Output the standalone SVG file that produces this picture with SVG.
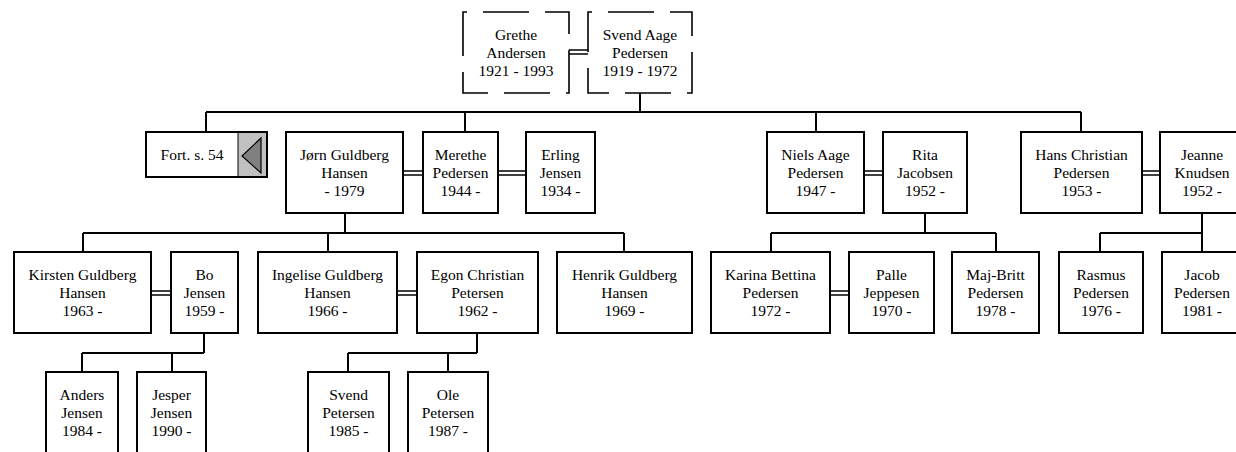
<svg xmlns="http://www.w3.org/2000/svg" width="1236" height="452" viewBox="0 0 1236 452">
<style>
.b{fill:#fff;stroke:#000;stroke-width:2}
.d{fill:#fff;stroke:#000;stroke-width:1.6;stroke-dasharray:46 16;stroke-dashoffset:42}
.t{font-family:"Liberation Serif","Times New Roman",serif;font-size:15.5px;fill:#000;text-anchor:middle}
.c{stroke:#000;stroke-width:2;fill:none}
.m{stroke:#000;stroke-width:1.5;fill:none}
</style>
<rect width="1236" height="452" fill="#fff"/>
<g id="connectors">
<path class="c" d="M640 93V112M206 112H1081M206 112V132M465 112V132M816 112V132M1081 112V132"/>
<path class="c" d="M345 213V233M83 233H624M83 233V252M328 233V252M624 233V252"/>
<path class="c" d="M925 213V233M771 233H996M771 233V252M996 233V252"/>
<path class="c" d="M1202 213V233M1100 233H1202M1100 233V252M1202 233V252"/>
<path class="c" d="M204 333V353M82 353H204M82 353V372M172 353V372"/>
<path class="c" d="M477 333V353M348 353H477M348 353V372M448 353V372"/>
<path class="m" d="M569 50H588M569 54H588"/>
<path class="m" d="M403 171H423M403 175H423M498 171H526M498 175H526M864 171H883M864 175H883M1142 171H1160M1142 175H1160"/>
<path class="m" d="M151 291H171M151 295H171M397 291H417M397 295H417M830 291H849M830 295H849"/>
</g>
<g id="grethe"><rect class="d" x="463" y="12" width="106" height="81"/><text class="t" x="516"><tspan x="516" y="39.5">Grethe</tspan><tspan x="516" y="57.5">Andersen</tspan><tspan x="516" y="75.5">1921 - 1993</tspan></text></g>
<g id="svend-aage"><rect class="d" x="588" y="12" width="104" height="81"/><text class="t"><tspan x="640" y="39.5">Svend Aage</tspan><tspan x="640" y="57.5">Pedersen</tspan><tspan x="640" y="75.5">1919 - 1972</tspan></text></g>
<g id="fort"><rect class="b" x="146" y="132" width="121" height="45"/><rect x="238" y="133" width="28" height="43" fill="#c0c0c0"/><line x1="238" y1="132" x2="238" y2="177" stroke="#000" stroke-width="1"/><polygon points="242,156 261,138 261,173" fill="#808080" stroke="#000" stroke-width="1.2"/><text class="t" x="192" y="160">Fort. s. 54</text></g>
<g id="jorn"><rect class="b" x="286" y="132" width="117" height="81"/><text class="t"><tspan x="344.5" y="159.5">Jørn Guldberg</tspan><tspan x="344.5" y="177.5">Hansen</tspan><tspan x="344.5" y="195.5">- 1979</tspan></text></g>
<g id="merethe"><rect class="b" x="423" y="132" width="75" height="81"/><text class="t"><tspan x="460.5" y="159.5">Merethe</tspan><tspan x="460.5" y="177.5">Pedersen</tspan><tspan x="460.5" y="195.5">1944 -</tspan></text></g>
<g id="erling"><rect class="b" x="526" y="132" width="69" height="81"/><text class="t"><tspan x="560.5" y="159.5">Erling</tspan><tspan x="560.5" y="177.5">Jensen</tspan><tspan x="560.5" y="195.5">1934 -</tspan></text></g>
<g id="niels"><rect class="b" x="767" y="132" width="97" height="81"/><text class="t"><tspan x="815.5" y="159.5">Niels Aage</tspan><tspan x="815.5" y="177.5">Pedersen</tspan><tspan x="815.5" y="195.5">1947 -</tspan></text></g>
<g id="rita"><rect class="b" x="883" y="132" width="84" height="81"/><text class="t"><tspan x="925" y="159.5">Rita</tspan><tspan x="925" y="177.5">Jacobsen</tspan><tspan x="925" y="195.5">1952 -</tspan></text></g>
<g id="hans"><rect class="b" x="1021" y="132" width="121" height="81"/><text class="t"><tspan x="1081.5" y="159.5">Hans Christian</tspan><tspan x="1081.5" y="177.5">Pedersen</tspan><tspan x="1081.5" y="195.5">1953 -</tspan></text></g>
<g id="jeanne"><rect class="b" x="1160" y="132" width="84" height="81"/><text class="t"><tspan x="1202" y="159.5">Jeanne</tspan><tspan x="1202" y="177.5">Knudsen</tspan><tspan x="1202" y="195.5">1952 -</tspan></text></g>
<g id="kirsten"><rect class="b" x="14" y="252" width="137" height="81"/><text class="t"><tspan x="82.5" y="279.5">Kirsten Guldberg</tspan><tspan x="82.5" y="297.5">Hansen</tspan><tspan x="82.5" y="315.5">1963 -</tspan></text></g>
<g id="bo"><rect class="b" x="171" y="252" width="67" height="81"/><text class="t"><tspan x="204.5" y="279.5">Bo</tspan><tspan x="204.5" y="297.5">Jensen</tspan><tspan x="204.5" y="315.5">1959 -</tspan></text></g>
<g id="ingelise"><rect class="b" x="258" y="252" width="139" height="81"/><text class="t"><tspan x="327.5" y="279.5">Ingelise Guldberg</tspan><tspan x="327.5" y="297.5">Hansen</tspan><tspan x="327.5" y="315.5">1966 -</tspan></text></g>
<g id="egon"><rect class="b" x="417" y="252" width="121" height="81"/><text class="t"><tspan x="477.5" y="279.5">Egon Christian</tspan><tspan x="477.5" y="297.5">Petersen</tspan><tspan x="477.5" y="315.5">1962 -</tspan></text></g>
<g id="henrik"><rect class="b" x="557" y="252" width="135" height="81"/><text class="t"><tspan x="624.5" y="279.5">Henrik Guldberg</tspan><tspan x="624.5" y="297.5">Hansen</tspan><tspan x="624.5" y="315.5">1969 -</tspan></text></g>
<g id="karina"><rect class="b" x="711" y="252" width="119" height="81"/><text class="t"><tspan x="770.5" y="279.5">Karina Bettina</tspan><tspan x="770.5" y="297.5">Pedersen</tspan><tspan x="770.5" y="315.5">1972 -</tspan></text></g>
<g id="palle"><rect class="b" x="849" y="252" width="85" height="81"/><text class="t"><tspan x="891.5" y="279.5">Palle</tspan><tspan x="891.5" y="297.5">Jeppesen</tspan><tspan x="891.5" y="315.5">1970 -</tspan></text></g>
<g id="majbritt"><rect class="b" x="952" y="252" width="87" height="81"/><text class="t"><tspan x="995.5" y="279.5">Maj-Britt</tspan><tspan x="995.5" y="297.5">Pedersen</tspan><tspan x="995.5" y="315.5">1978 -</tspan></text></g>
<g id="rasmus"><rect class="b" x="1059" y="252" width="84" height="81"/><text class="t"><tspan x="1101" y="279.5">Rasmus</tspan><tspan x="1101" y="297.5">Pedersen</tspan><tspan x="1101" y="315.5">1976 -</tspan></text></g>
<g id="jacob"><rect class="b" x="1162" y="252" width="80" height="81"/><text class="t"><tspan x="1202" y="279.5">Jacob</tspan><tspan x="1202" y="297.5">Pedersen</tspan><tspan x="1202" y="315.5">1981 -</tspan></text></g>
<g id="anders"><rect class="b" x="46" y="372" width="72" height="81"/><text class="t"><tspan x="82" y="399.5">Anders</tspan><tspan x="82" y="417.5">Jensen</tspan><tspan x="82" y="435.5">1984 -</tspan></text></g>
<g id="jesper"><rect class="b" x="137" y="372" width="69" height="81"/><text class="t"><tspan x="171.5" y="399.5">Jesper</tspan><tspan x="171.5" y="417.5">Jensen</tspan><tspan x="171.5" y="435.5">1990 -</tspan></text></g>
<g id="svend"><rect class="b" x="308" y="372" width="81" height="81"/><text class="t"><tspan x="348.5" y="399.5">Svend</tspan><tspan x="348.5" y="417.5">Petersen</tspan><tspan x="348.5" y="435.5">1985 -</tspan></text></g>
<g id="ole"><rect class="b" x="408" y="372" width="80" height="81"/><text class="t"><tspan x="448" y="399.5">Ole</tspan><tspan x="448" y="417.5">Petersen</tspan><tspan x="448" y="435.5">1987 -</tspan></text></g>
</svg>
